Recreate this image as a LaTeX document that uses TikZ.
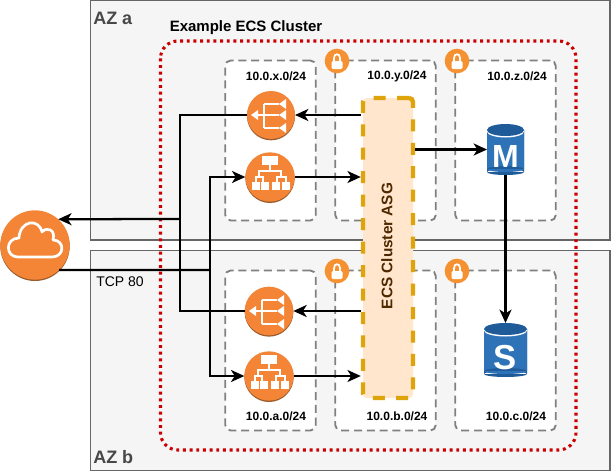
\documentclass[tikz,border=0pt]{standalone}
\usepackage{fontspec}
\setmainfont{Liberation Sans}
\usetikzlibrary{arrows.meta,shadows}
\definecolor{azfill}{HTML}{F5F5F5}
\definecolor{azline}{HTML}{666666}
\definecolor{aztext}{HTML}{474747}
\definecolor{clusterred}{HTML}{CC0000}
\definecolor{subnetline}{HTML}{808080}
\definecolor{asgfill}{HTML}{FFE6CC}
\definecolor{asgline}{HTML}{DFA30C}
\definecolor{asgtext}{HTML}{4D2800}
\definecolor{awsorange}{HTML}{F58536}
\definecolor{awsshade}{HTML}{9A5B2C}
\definecolor{awsblue}{HTML}{2E73B8}
\definecolor{awsdark}{HTML}{205B99}

\begin{document}
\begin{tikzpicture}[x=0.75pt, y=-0.75pt,
  azbox/.style = {draw=azline, fill=azfill, line width=0.9pt},
  aztitle/.style = {anchor=west, inner sep=0pt, text=aztext, font=\fontsize{13.5}{15}\selectfont\bfseries},
  clusterbox/.style = {draw=clusterred, line width=2.3pt, rounded corners=13pt, dash pattern=on 2.2pt off 2.8pt},
  subnetbox/.style = {draw=subnetline, fill=white, line width=1.4pt, rounded corners=4pt,
    dash pattern=on 6pt off 3.6pt, minimum height=120pt, inner sep=0pt},
  subnettext/.style = {inner sep=0pt, font=\fontsize{9}{11}\selectfont\bfseries},
  asgbox/.style = {draw=asgline, fill=asgfill, line width=3.3pt, rounded corners=3pt,
    dash pattern=on 9pt off 8.6pt, minimum width=37.5pt, minimum height=225pt, inner sep=0pt},
  icon/.style = {circle, fill=awsorange, minimum size=#1, inner sep=0pt, outer sep=0pt,
    general shadow={fill=awsshade, shadow yshift=-1pt}},
  lockicon/.style = {circle, fill=awsorange!90!yellow, minimum size=18.5pt, inner sep=0pt},
  dbicon/.style = {inner sep=0pt, outer sep=0pt, text=white},
  wire/.style = {draw, line width=1.7pt},
  flow/.style = {wire, -{Stealth[length=10pt, width=9pt, inset=2.8pt]}},
  glyph/.style = {draw=white, line width=1pt},
  pics/elbglyph/.style = {code={
    \draw[glyph] (-19,0) -- (8,0) (-7,-11) -- (-7,13) (-7,-11) -- (8,-11) (-7,13) -- (8,13);
    \fill[white] (-20,0) -- (-13,-5) -- (-13,5) -- cycle;
    \foreach \y in {-11,0,13} \fill[white] (8,\y) -- (15,\y-5) -- (15,\y+5) -- cycle;
  }},
  pics/albglyph/.style = {code={
    \fill[white] (-8,-21) rectangle (8,-12);
    \draw[glyph] (0,-12) -- (0,-6) (-11,0) -- (-11,-6) -- (11,-6) -- (11,0)
      (-14,5) -- (-14,0) -- (-7,0) -- (-7,5) (7,5) -- (7,0) -- (16,0) -- (16,5);
    \foreach \x in {-18,-9,2,12} \fill[white] (\x,5) rectangle ++(7.5,8);
  }},
  pics/cloudglyph/.style = {code={
    \draw[white, line width=2pt, line join=round] (-17,12) .. controls (-30,12) and (-30,-7) .. (-16,-7)
      .. controls (-15,-25) and (4,-27) .. (7,-13) .. controls (12,-19) and (21,-15) .. (18,-5)
      .. controls (30,-5) and (30,12) .. (17,12) -- cycle;
  }},
  pics/lockglyph/.style = {code={
    \fill[white, rounded corners=1pt] (-5.5,0) rectangle (5.5,8);
    \draw[white, line width=1.3pt] (-3,0) -- (-3,-3) .. controls (-3,-8) and (3,-8) .. (3,-3) -- (3,0);
  }},
  pics/dbglyph/.style 2 args = {code={
    \fill[awsdark] (-#1,-#2+6) rectangle (#1,#2-3) (0,#2-3) ellipse [x radius=#1, y radius=3];
    \fill[awsblue] (-#1,-#2+6) rectangle (#1,#2-6) (0,#2-6) ellipse [x radius=#1, y radius=3];
    \fill[white] (0,-#2+7.5) ellipse [x radius=#1, y radius=6];
    \fill[awsdark] (0,-#2+6) ellipse [x radius=#1, y radius=6];
  }}]

\useasboundingbox (0,0) rectangle (611,471);

% Availability zones and the cluster
\draw[azbox] (90.5,0.5) rectangle (610,240);
\draw[azbox] (90.5,250.5) rectangle (610,470.5);
\node[aztitle] (aza) at (93,18) {AZ a};
\node[aztitle] (azb) at (93,457) {AZ b};
\draw[clusterbox] (160.5,41) rectangle (576,450);
\node[anchor=west, inner sep=0pt, font=\fontsize{11.25}{13}\selectfont\bfseries] (clustertitle) at (169.5,28) {Example ECS Cluster};

% Subnets
\foreach \n/\x/\y/\w in {x/270.5/140.5/67.8, y/385.5/140.5/75.3, z/505.5/140.5/75.3,
    a/270.5/350.5/67.8, b/385.5/350.5/75.3, c/505.5/350.5/75.3} {
  \node[subnetbox, minimum width=\w pt] (subnet\n) at (\x,\y) {};
}
\node[subnettext] (labelx) at (276,76) {10.0.x.0/24};
\node[subnettext] (labely) at (397,76) {10.0.y.0/24};
\node[subnettext] (labelz) at (517,76) {10.0.z.0/24};
\node[subnettext] (labela) at (276,416) {10.0.a.0/24};
\node[subnettext] (labelb) at (397,416) {10.0.b.0/24};
\node[subnettext] (labelc) at (516,416) {10.0.c.0/24};

% Locks
\foreach \n/\x/\y in {y/337/61, z/457/61, b/337/271, c/457/271} {
  \node[lockicon] (lock\n) at (\x,\y) {};
  \pic at (lock\n.center) {lockglyph};
}

% Scaling group
\node[asgbox] (asg) at (388,248) {};
\node[rotate=90, inner sep=0pt, text=asgtext, font=\fontsize{11.5}{14}\selectfont\bfseries] (asgtitle) at (387,246) {ECS Cluster ASG};

% Icons
\node[icon=52pt] (cloud) at (35,245) {};
\pic at (cloud.center) {cloudglyph};
\node[icon=36pt] (elbx) at (271,115) {};
\pic at (elbx.center) {elbglyph};
\node[icon=37pt] (albx) at (270,177) {};
\pic at (albx.center) {albglyph};
\node[icon=36.5pt] (elba) at (269,311) {};
\pic at (elba.center) {elbglyph};
\node[icon=37pt] (alba) at (269,376) {};
\pic at (alba.center) {albglyph};

\pic at (505.5,149.5) {dbglyph={18.5}{25.5}};
\node[dbicon, minimum width=27.75pt, minimum height=38.25pt, font=\fontsize{24}{26}\selectfont\bfseries] (dbm) at (505.5,149.5) {\raisebox{-13.5pt}[0pt][0pt]{M}};
\pic at (505.5,350) {dbglyph={21.5}{27}};
\node[dbicon, minimum width=32.25pt, minimum height=40.5pt, font=\fontsize{26}{28}\selectfont\bfseries] (dbs) at (505.5,350) {\raisebox{-14.5pt}[0pt][0pt]{S}};

\node[anchor=west, inner sep=0pt, font=\fontsize{10.5}{12}\selectfont] (tcp) at (96,282) {TCP 80};

% Connectors
\coordinate (outbus) at (180,219);
\coordinate (inbus) at (210,270);
\draw[wire] (elbx.west) -| (outbus);
\draw[wire] (elba.west) -| (outbus);
\draw[flow] (outbus) -- (cloud.48);
\draw[wire] (cloud.-46) -- (inbus);
\draw[flow] (inbus) |- (albx.west);
\draw[flow] (inbus) |- (alba.west);
\draw[flow] (asg.west |- elbx.east) -- (elbx.east);
\draw[flow] (asg.west |- elba.east) -- (elba.east);
\draw[flow] (albx.east) -- (asg.west |- albx.east);
\draw[flow] (alba.east) -- (asg.west |- alba.east);
\draw[flow] (asg.east |- dbm.west) -- (dbm.west);
\draw[flow] (dbm.south) -- (dbs.north);
\end{tikzpicture}
\end{document}
